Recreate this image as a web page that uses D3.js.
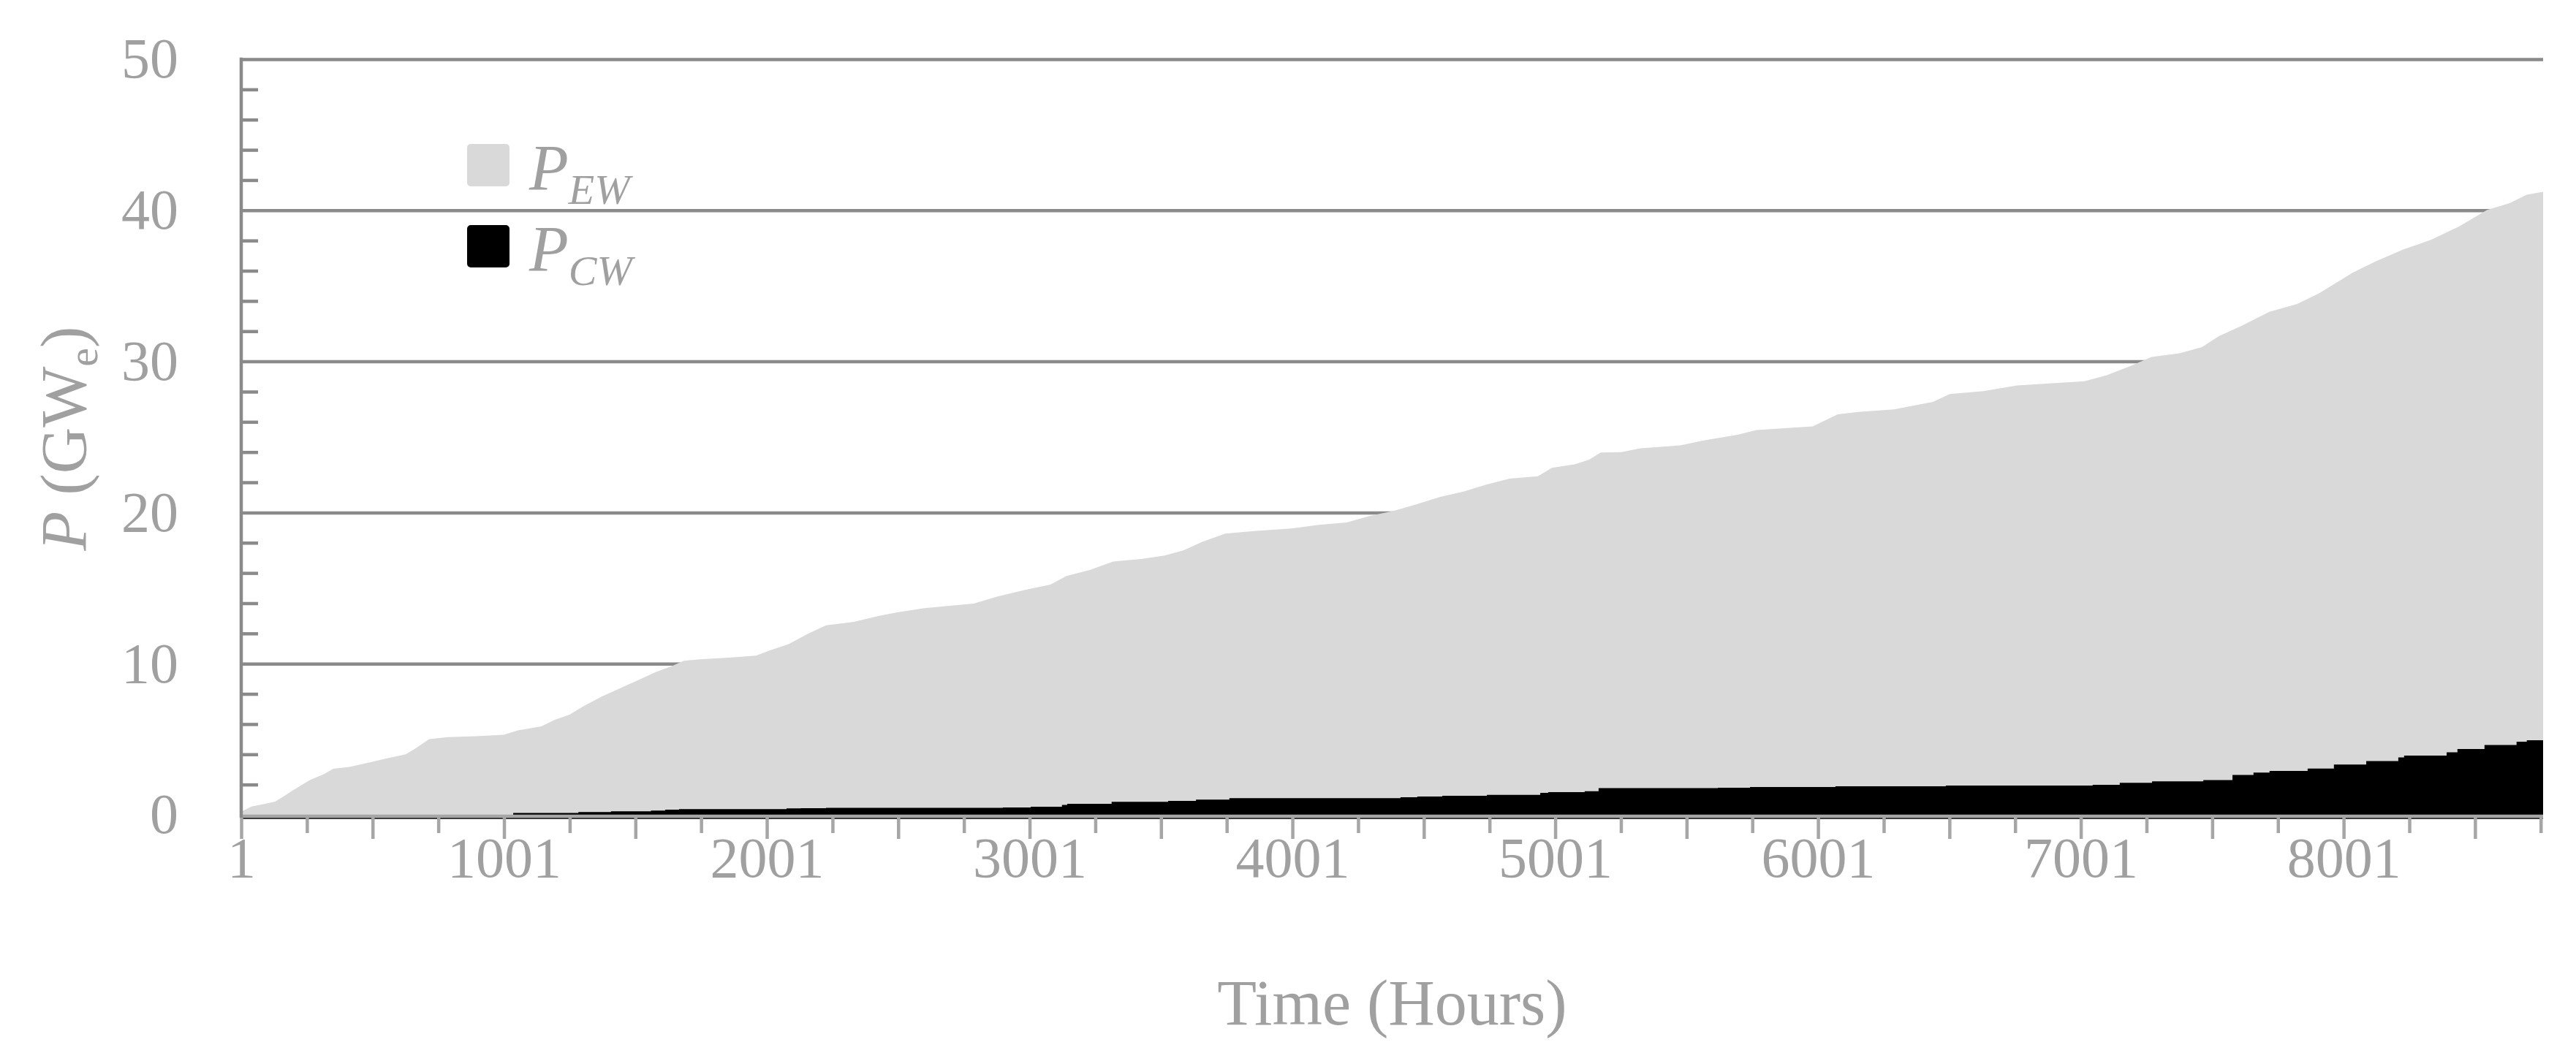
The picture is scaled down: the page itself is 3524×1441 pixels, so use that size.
<!DOCTYPE html>
<html>
<head>
<meta charset="utf-8">
<script src="https://cdn.jsdelivr.net/npm/d3@7"></script>
<style>
body{margin:0;background:#fff;}
svg text{font-family:"Palatino Linotype","Book Antiqua",Palatino,"Liberation Serif",serif;fill:#a0a0a0;}
.tick text{font-size:78px;}
</style>
</head>
<body>
<div id="my_dataviz"></div>
<script>
// P_EW (light grey area)
var ewHours  = [1,40,85,130,165,200,262,316,351,413,484,556,627,662,716,787,894,1000,1054,1143,1196,1250,1303,1374,1445,1516,1578,1640,1685,1747,1854,1960,2013,2084,2155,2226,2333,2422,2493,2600,2742,2788,2877,2983,3080,3141,3230,3319,3425,3514,3586,3656,3745,3854,3995,4101,4207,4296,4385,4474,4563,4652,4738,4827,4935,4988,5077,5130,5174,5252,5325,5430,5480,5566,5694,5767,5981,6076,6162,6290,6438,6502,6630,6758,6972,7014,7100,7184,7270,7376,7462,7526,7609,7718,7824,7907,8035,8121,8227,8333,8441,8547,8633,8697,8760];
var ewValues = [0.2,0.55,0.7,0.87,1.24,1.64,2.3,2.7,3.05,3.17,3.44,3.73,4.0,4.37,5.0,5.14,5.2,5.3,5.58,5.85,6.3,6.62,7.18,7.83,8.39,8.95,9.44,9.84,10.19,10.29,10.4,10.53,10.88,11.29,11.96,12.54,12.77,13.14,13.38,13.67,13.9,13.97,14.43,14.88,15.23,15.8,16.2,16.76,16.92,17.16,17.49,18.05,18.6,18.78,18.94,19.18,19.34,19.78,20.1,20.55,21.03,21.39,21.84,22.24,22.4,22.96,23.2,23.5,23.97,24.0,24.25,24.38,24.45,24.77,25.15,25.46,25.7,26.5,26.67,26.83,27.32,27.84,28.04,28.41,28.64,28.69,29.09,29.66,30.3,30.54,30.95,31.67,32.32,33.28,33.8,34.5,35.87,36.6,37.4,38.05,38.94,40.03,40.47,41.03,41.22];

// P_CW (black area)
var cwHours  = [1,1036,1284,1408,1560,1614,1667,2076,2130,2226,2899,3005,3124,3144,3313,3528,3634,3761,4412,4476,4571,4741,4944,4974,5113,5166,5620,5742,6067,6487,7046,7149,7272,7467,7578,7658,7719,7864,7964,8087,8209,8231,8393,8434,8537,8659,8698,8760];
var cwValues = [0,0.12,0.18,0.23,0.28,0.34,0.37,0.42,0.44,0.46,0.48,0.53,0.65,0.73,0.86,0.92,1.0,1.1,1.16,1.21,1.26,1.32,1.45,1.5,1.56,1.77,1.79,1.84,1.88,1.93,1.98,2.12,2.21,2.3,2.63,2.79,2.9,3.06,3.33,3.55,3.79,3.92,4.14,4.35,4.62,4.84,4.93,5.0];

var xTickLabels = [1,1001,2001,3001,4001,5001,6001,7001,8001];
var yTickLabels = [0,10,20,30,40,50];
var gridValues  = [10,20,30,40,50];

var margin = {top: 81, right: 45, bottom: 326, left: 330},
    width = 3524 - margin.left - margin.right,
    height = 1441 - margin.top - margin.bottom;

var svg = d3.select("#my_dataviz")
  .append("svg")
    .attr("width", width + margin.left + margin.right)
    .attr("height", height + margin.top + margin.bottom)
  .append("g")
    .attr("transform", "translate(" + margin.left + "," + margin.top + ")");

var x = d3.scaleLinear().domain([1, 8760]).range([0, width]);
var y = d3.scaleLinear().domain([0, 50]).range([height, 0]);

var ew = ewHours.map(function(h, i) { return {h: h, v: ewValues[i]}; });
var cw = cwHours.map(function(h, i) { return {h: h, v: cwValues[i]}; });

// gridlines
var grid = svg.append("g")
  .call(d3.axisLeft(y).tickValues(gridValues).tickSize(-width).tickFormat(""));
grid.select(".domain").remove();
grid.selectAll("line").attr("stroke", "#8a8a8a").attr("stroke-width", 4.5);

// areas
svg.append("path")
  .datum(ew)
  .attr("fill", "#d9d9d9")
  .attr("d", d3.area()
    .x(function(d) { return x(d.h); })
    .y0(y(0))
    .y1(function(d) { return y(d.v); }));

svg.append("path")
  .datum(cw)
  .attr("fill", "#000")
  .attr("d", d3.area()
    .curve(d3.curveStepAfter)
    .x(function(d) { return x(d.h); })
    .y0(y(0))
    .y1(function(d) { return y(d.v); }));

// x axis: grey line, thin black line below, ticks
svg.append("line")
  .attr("x1", 0).attr("x2", width)
  .attr("y1", height + 2).attr("y2", height + 2)
  .attr("stroke", "#a6a6a6").attr("stroke-width", 4.5);
svg.append("line")
  .attr("x1", 0).attr("x2", width)
  .attr("y1", height + 5).attr("y2", height + 5)
  .attr("stroke", "#000").attr("stroke-width", 1.5);

var xLong = svg.append("g")
  .attr("transform", "translate(0," + (height + 4) + ")")
  .call(d3.axisBottom(x).tickValues(d3.range(1, 8761, 500)).tickSize(29).tickFormat(""));
var xShort = svg.append("g")
  .attr("transform", "translate(0," + (height + 4) + ")")
  .call(d3.axisBottom(x).tickValues(d3.range(251, 8761, 500)).tickSize(21).tickFormat(""));
[xLong, xShort].forEach(function(a) {
  a.select(".domain").remove();
  a.selectAll("line").attr("stroke", "#a6a6a6").attr("stroke-width", 4.5);
});

var xLab = svg.append("g")
  .attr("transform", "translate(0," + height + ")")
  .call(d3.axisBottom(x).tickValues(xTickLabels).tickSize(0).tickPadding(30).tickFormat(d3.format("d")));
xLab.select(".domain").remove();

// y axis: line, inner minor ticks, labels
svg.append("line")
  .attr("x1", 0).attr("x2", 0)
  .attr("y1", y(50) - 2.25).attr("y2", height + 4)
  .attr("stroke", "#8a8a8a").attr("stroke-width", 4.5);

var minor = d3.range(2, 50, 2).filter(function(v) { return v % 10 != 0; });
var yMinor = svg.append("g")
  .call(d3.axisRight(y).tickValues(minor).tickSize(23).tickFormat(""));
yMinor.select(".domain").remove();
yMinor.selectAll("line").attr("stroke", "#8a8a8a").attr("stroke-width", 4.5);

var yLab = svg.append("g")
  .call(d3.axisLeft(y).tickValues(yTickLabels).tickSize(0).tickPadding(86));
yLab.select(".domain").remove();

// axis titles
svg.append("text")
  .attr("x", width / 2)
  .attr("y", height + 287)
  .attr("text-anchor", "middle")
  .attr("font-size", 88)
  .text("Time (Hours)");

var yt = svg.append("text")
  .attr("transform", "translate(" + (117 - margin.left) + "," + (600 - margin.top) + ") rotate(-90)")
  .attr("text-anchor", "middle")
  .attr("font-size", 88);
yt.append("tspan").attr("font-style", "italic").text("P");
yt.append("tspan").text(" (GW");
yt.append("tspan").attr("font-size", 58).attr("dy", 16).text("e");
yt.append("tspan").attr("dy", -16).text(")");

// legend
var legend = [
  {name: "EW", color: "#d9d9d9", top: 197},
  {name: "CW", color: "#000000", top: 308}
];
legend.forEach(function(l) {
  var g = svg.append("g").attr("transform", "translate(" + (639 - margin.left) + "," + (l.top - margin.top) + ")");
  g.append("rect")
    .attr("width", 58).attr("height", 58)
    .attr("rx", 5)
    .attr("fill", l.color);
  var t = g.append("text")
    .attr("x", 85).attr("y", 62)
    .attr("font-size", 88)
    .attr("font-style", "italic");
  t.append("tspan").text("P");
  t.append("tspan").attr("font-size", 58).attr("dy", 20).text(l.name);
});
</script>
</body>
</html>
